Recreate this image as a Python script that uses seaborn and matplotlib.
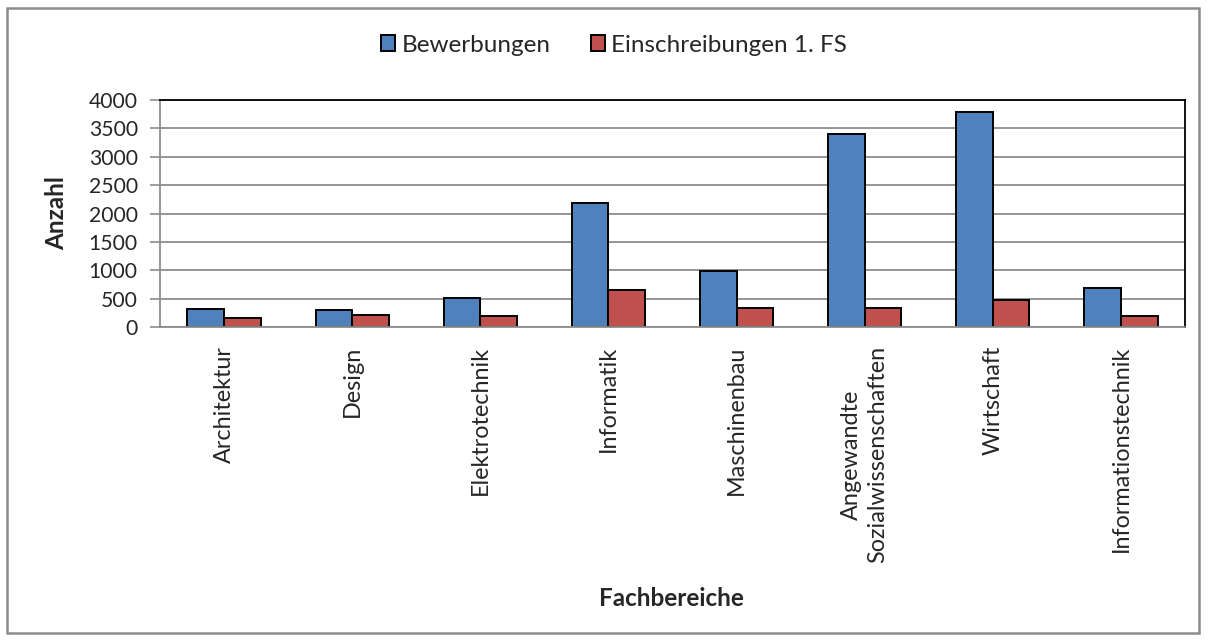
import pandas as pd
import matplotlib
matplotlib.use('Agg')
import matplotlib.pyplot as plt
import seaborn as sns
from matplotlib.patches import Rectangle

# Chart data
fachbereiche = ['Architektur', 'Design', 'Elektrotechnik', 'Informatik', 'Maschinenbau',
                'Angewandte\nSozialwissenschaften', 'Wirtschaft', 'Informationstechnik']
bewerbungen = [312, 300, 507, 2178, 983, 3396, 3789, 688]
einschreibungen = [159, 212, 194, 653, 335, 330, 483, 189]
series_names = ['Bewerbungen', 'Einschreibungen 1. FS']
colors = ['#4F81BD', '#C0504D']
y_ticks = [0, 500, 1000, 1500, 2000, 2500, 3000, 3500, 4000]

data = pd.DataFrame({
    'Fachbereich': fachbereiche * 2,
    'Serie': [series_names[0]] * len(fachbereiche) + [series_names[1]] * len(fachbereiche),
    'Anzahl': bewerbungen + einschreibungen,
})

sns.set_style('white')
plt.rcParams['font.family'] = ['Lato', 'DejaVu Sans']

fig = plt.figure(figsize=(12.08, 6.41), dpi=100)
ax = fig.add_axes([160 / 1208, 1 - 327 / 641, 1025 / 1208, 227 / 641])

sns.barplot(data=data, x='Fachbereich', y='Anzahl', hue='Serie', palette=colors,
            width=2 / 3.5, gap=0, edgecolor='black', linewidth=1.4, ax=ax,
            saturation=1, errorbar=None)

ax.set_ylim(0, 4000)
ax.set_yticks(y_ticks)
ax.set_xlim(-0.5, len(fachbereiche) - 0.5)
ax.yaxis.grid(True, color='#8c8c8c', linewidth=1.3)
ax.set_axisbelow(True)

for side in ['top', 'right']:
    ax.spines[side].set_color('black')
    ax.spines[side].set_linewidth(1.3)
for side in ['left', 'bottom']:
    ax.spines[side].set_color('#8c8c8c')
    ax.spines[side].set_linewidth(1.3)

ax.tick_params(axis='y', which='major', left=True, length=7, width=1.2, color='#8c8c8c',
               labelsize=15.2, pad=9)
ax.tick_params(axis='x', bottom=False, labelsize=16.8, pad=10)
plt.setp(ax.get_xticklabels(), rotation=90, ha='center', va='top',
         multialignment='center', linespacing=1.3)

ax.set_ylabel('')
ax.set_xlabel('')
fig.text(57 / 1208, 1 - 213 / 641, 'Anzahl', rotation=90, ha='center', va='center',
         fontsize=17.5, fontweight='bold')
fig.text(671 / 1208, 1 - 598 / 641, 'Fachbereiche', ha='center', va='center',
         fontsize=17.5, fontweight='bold')

handles, labels = ax.get_legend_handles_labels()
ax.get_legend().remove()
fig.legend(handles, labels, loc='center', bbox_to_anchor=(614 / 1208, 1 - 45 / 641),
           ncol=2, frameon=False, fontsize=17.5, handlelength=0.6, handleheight=0.6,
           handletextpad=0.25, columnspacing=1.65)

# outer chart border
fig.patches.append(Rectangle((7 / 1208, 8 / 641), 1192 / 1208, 625 / 641,
                             transform=fig.transFigure, fill=False,
                             edgecolor='#8c8c8c', linewidth=1.8))

fig.savefig('out.png', dpi=100)
